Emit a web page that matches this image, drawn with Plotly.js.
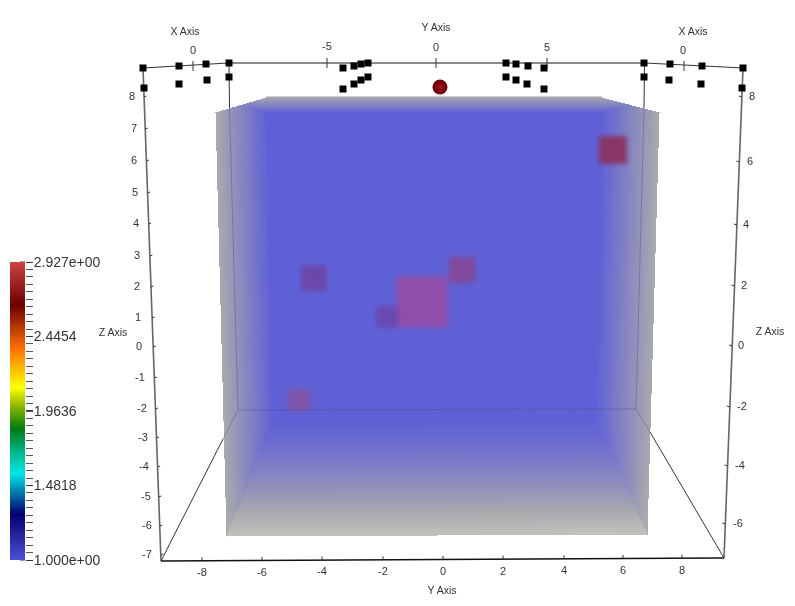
<!DOCTYPE html>
<html><head><meta charset="utf-8">
<script src="https://cdn.plot.ly/plotly-3.0.1.min.js"></script>
<style>html,body{margin:0;padding:0;background:#fff}#c{width:795px;height:606px}
.xy .scatterlayer .trace{filter:blur(0.35px)}
.xy .scatterlayer .trace:nth-child(1){filter:blur(2.4px)}
.yaxislayer-above text{filter:blur(0.35px)}
</style>
</head><body><div id="c"></div>
<script>
// ---- data (positions in the rendered view) ----
const seedX = [143,144,179,179,206,207,229,229,343,343,354,354,361,361,368,368,506,506,516,516,528,527,544,544,644,644,670,669,702,701,743,742];
const seedY = [68,88,66,84,64,80,63,77,68,89,66,84,64,80,63,77,63,77,64,80,66,84,68,89,63,77,64,80,66,84,68,88];

const blockX = [314,422,462,387,299,613];
const blockY = [278,302,270,317,400,150];
const blockSize = [25,51,26,22,22,28];
const blockColor = ['#6c46a8','#914da8','#83489a','#6a48b0','#8054a6','#8a3460'];

const zLabels = ['8','7','6','5','4','3','2','1','0','-1','-2','-3','-4','-5','-6','-7'];
const zLeftX  = [132,134,134,135,136,137,137,138,139,140,142,143,144,146,147,147];
const zLeftY  = [97,129,161,193,224,256,287,318,347,378,409,438,467,497,526,555];
const zRight  = ['8','6','4','2','0','-2','-4','-6'];
const zRightX = [752,750,746,744,741,742,740,738];
const zRightY = [97,162,225,286,346,407,466,524];

const yBottom = ['-8','-6','-4','-2','0','2','4','6','8'];
const yBottomX = [202,262,322,383,443,503,564,623,682];
const yBottomY = [573,573,572,572,572,572,571,571,571];
const topLabels = ['0','-5','0','5','0'];
const topX = [193,327,436,547,683];
const topY = [51,47,48,48,51];
const titles = ['X Axis','Y Axis','X Axis','Y Axis','Z Axis','Z Axis'];
const titleX = [185,436,693,442,113,770];
const titleY = [32,28,32,591,333,332];

const cbTickVals = [1,1.4818,1.9636,2.4454,2.927];
const cbTickText = ['1.000e+00','1.4818','1.9636','2.4454','2.927e+00'];
const cbScale = [[0,'#4f4fd6'],[0.155,'#00006c'],[0.29,'#00e6e6'],[0.36,'#00b890'],[0.44,'#007a12'],[0.53,'#a6c400'],[0.58,'#ffff00'],[0.71,'#ff7000'],[0.855,'#6c0000'],[1,'#cc4444']];
const volumeScale = [[0,'#6060d6'],[0.75,'#a9a9ae'],[1,'#c2c2bc']];

// ---- volume shading field, painted as a heatmap ----
function lerp(a,b,s){return a+(b-a)*s}
const volX=[],volY=[],volZ=[];
for(let x=214;x<=660;x++)volX.push(x);
for(let y=97;y<=536;y++)volY.push(y);
for(const y of volY){
  const row=[];
  const L=lerp(215,226,Math.max(0,(y-112))/424), R=lerp(659,647,Math.max(0,(y-112))/422);
  for(const x of volX){
    let v=NaN;
    const edgeTop = x<266 ? lerp(112,97,(x-215)/51) : (x>601 ? lerp(97,112,(x-601)/58) : 97);
    const edgeBot = lerp(536,534,(x-226)/421);
    if(x>=L && x<=R && y>=edgeTop && y<=edgeBot){
      const s=Math.max(0,(y-418)/(edgeBot-418));
      const floor=Math.pow(s,1.3);
      const top=Math.max(0,1-(y-97)/15)*0.72;
      const iL = y<=420 ? lerp(266,273,(y-97)/323) : lerp(273,226,(y-420)/116);
      const iR = y<=420 ? lerp(601,595,(y-97)/323) : lerp(595,647,(y-420)/114);
      let t=Math.max(floor,top);
      if(x<iL){const u=(x-L)/Math.max(1,iL-L);t=Math.max(top,lerp(0.75,floor*0.88,u));}
      if(x>iR){const u=(R-x)/Math.max(1,R-iR);t=Math.max(top,lerp(0.75,floor*0.88,u));}
      v=t;
    }
    row.push(v);
  }
  volZ.push(row);
}

// ---- segments ----
function segs(list){const X=[],Y=[];for(const s of list){X.push(s[0],s[2],null);Y.push(s[1],s[3],null);}return {X,Y};}
const leftAt=y=>lerp(143,161,(y-68)/493), rightAt=y=>lerp(743,724,(y-68)/490);
const tickSegs=[];
for(const y of zLeftY) tickSegs.push([leftAt(y),y,leftAt(y)+2.5,y-1]);
for(const y of zRightY) tickSegs.push([rightAt(y),y,rightAt(y)-3,y-1]);
for(const x of yBottomX){const y=lerp(561,558,(x-161)/563);tickSegs.push([x,y,x,y-3.5]);}
tickSegs.push([193,61,193,71],[327,58,327,68],[436,58,436,68],[547,58,547,68],[684,61,684,71]);
for(const y of [262,336.5,411,485.5,560]) tickSegs.push([20,y,25,y]);
const tk=segs(tickSegs);

const strong=segs([[161,561,724,558]]);
const sides=segs([[143,68,161,561],[743,68,724,558],[228,63,645,63]]);
const thin=segs([[143,68,228,63],[645,63,743,68],[229,63,229.5,108],[644.5,63,644,108],[223,439,161,561],[650,432,724,558]]);
const faint=segs([[229.5,108,238,410],[644,108,636,409],[238,410,223,439],[636,409,650,432],[238,410,636,409]]);

const fontFam='"Liberation Sans",Arial,sans-serif';
const line=(s,c,w)=>({type:'scatter',mode:'lines',x:s.X,y:s.Y,line:{color:c,width:w},hoverinfo:'skip',connectgaps:false});
const text=(x,y,t,size)=>({type:'scatter',mode:'text',x,y,text:t,textposition:'middle center',textfont:{family:fontFam,size:size,color:'#333333'},hoverinfo:'skip',cliponaxis:false});

const cbVals=[];for(let i=0;i<=160;i++)cbVals.push(1+1.927*i/160);

const traces=[
  {type:'heatmap',x:volX,y:volY,z:volZ,colorscale:volumeScale,zmin:0,zmax:1,showscale:false,hoverinfo:'skip',connectgaps:false},
  {type:'scatter',mode:'markers',x:blockX,y:blockY,hoverinfo:'skip',marker:{symbol:'square',size:blockSize,color:blockColor,opacity:0.95,line:{width:0}}},
  line(faint,'rgba(70,70,130,0.38)',1),
  line(sides,'#666666',1.6),
  line(thin,'#333333',1),
  line(strong,'#111111',1.5),
  line(tk,'#333333',1),
  {type:'scatter',mode:'markers',x:seedX,y:seedY,hoverinfo:'skip',marker:{symbol:'square',size:7,color:'#000000',line:{width:0}}},
  {type:'scatter',mode:'markers',x:[440],y:[87],hoverinfo:'skip',marker:{symbol:'circle',size:15,color:'#640008',gradient:{type:'radial',color:'#a40c18'},line:{width:0}}},
  text(zLeftX,zLeftY,zLabels,11),text(zRightX,zRightY,zRight,11),
  text(yBottomX,yBottomY,yBottom,11),text(topX,topY,topLabels,11),text(titleX,titleY,titles,10.5),
  {type:'heatmap',xaxis:'x2',yaxis:'y2',x:[0,1],y:cbVals,z:cbVals.map(v=>[v,v]),colorscale:cbScale,zmin:1,zmax:2.927,showscale:false,hoverinfo:'skip'}
];
const layout={
  width:795,height:606,autosize:false,showlegend:false,
  margin:{l:0,r:0,t:0,b:0,pad:0},paper_bgcolor:'#fff',plot_bgcolor:'rgba(0,0,0,0)',
  xaxis:{range:[0,795],domain:[0,1],visible:false,fixedrange:true},
  yaxis:{range:[606,0],domain:[0,1],visible:false,fixedrange:true},
  xaxis2:{domain:[10/795,25/795],range:[-0.5,1.5],visible:false,anchor:'y2',fixedrange:true},
  yaxis2:{domain:[46/606,344/606],range:[1,2.927],anchor:'x2',side:'right',showgrid:false,zeroline:false,showline:false,fixedrange:true,
    tickmode:'array',tickvals:cbTickVals,ticktext:cbTickText,ticks:'outside',ticklen:7,tickwidth:1,tickcolor:'#333',ticklabelstandoff:-2,
    tickfont:{family:fontFam,size:14,color:'#333333'},
    minor:{tickmode:'linear',tick0:1,dtick:1.927/40,ticks:'outside',ticklen:7,tickwidth:1,tickcolor:'#555',showgrid:false}}
};
Plotly.newPlot('c',traces,layout,{displayModeBar:false,staticPlot:true});
</script></body></html>
